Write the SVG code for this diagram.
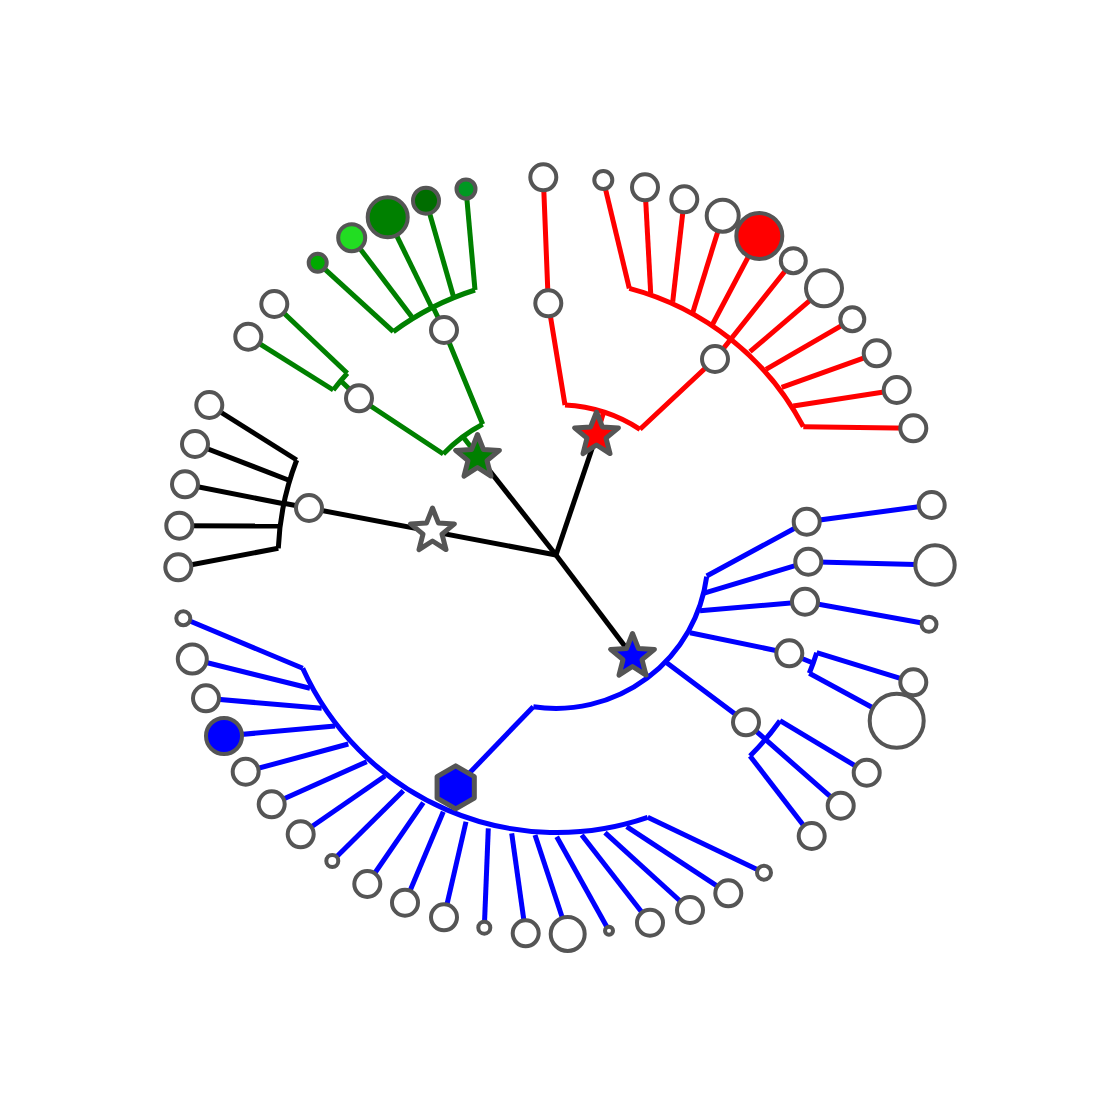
<svg xmlns="http://www.w3.org/2000/svg" width="1113" height="1113" viewBox="0 0 1113 1113">
<style>
.e{fill:none;stroke-width:5;stroke-linejoin:miter}
.k{stroke:#000}.g{stroke:#008000}.r{stroke:#ff0000}.b{stroke:#0000ff}
.n{fill:#fff;stroke:#555;stroke-width:4}
.s{stroke:#555;stroke-width:5;stroke-linejoin:round}
</style>
<defs>
<path id="star" d="M0,-23 L5.9,-8.1 L21.9,-7.1 L9.5,3.1 L13.5,18.6 L0,10 L-13.5,18.6 L-9.5,3.1 L-21.9,-7.1 L-5.9,-8.1 Z"/>
<path id="hex" d="M0,-21.5 L18.62,-10.75 L18.62,10.75 L0,21.5 L-18.62,10.75 L-18.62,-10.75 Z"/>
</defs>
<rect width="1113" height="1113" fill="#fff"/>
<g id="connectors">
<path class="e k" d="M556 555 L285 503.5"/>
<path class="e k" d="M556 555 L478 456"/>
<path class="e k" d="M556 555 L597 434"/>
<path class="e k" d="M556 555 L633 657"/>
<path class="e k" d="M296.7 460 A277 277 0 0 0 278.3 548.3"/>
<path class="e k" d="M209.3 405 L296.7 460"/>
<path class="e k" d="M195 444 L288.3 480"/>
<path class="e k" d="M185 484.3 L285 504"/>
<path class="e k" d="M179.3 525.7 L278.5 526"/>
<path class="e k" d="M178.3 567.3 L278.3 548.3"/>
<path class="e g" d="M478 456 L463.5 437.5"/>
<path class="e g" d="M443.3 454 A150 150 0 0 1 482.7 424.3"/>
<path class="e g" d="M443.3 454 L359 398.3 L341 381"/>
<path class="e g" d="M333.3 390 A277 277 0 0 1 347.3 373.3"/>
<path class="e g" d="M274.3 304 L347.3 373.3"/>
<path class="e g" d="M248.3 336.7 L333.3 390"/>
<path class="e g" d="M482.7 424.3 L444 330 L433 307"/>
<path class="e g" d="M393.3 331.7 A277 277 0 0 1 475 290"/>
<path class="e g" d="M317.7 262.7 L393.3 331.7"/>
<path class="e g" d="M351.7 237.7 L411.7 316.7"/>
<path class="e g" d="M387.7 217.3 L432 308"/>
<path class="e g" d="M426 200.7 L453.3 296"/>
<path class="e g" d="M466 189 L475 290"/>
<path class="e r" d="M597 434 L603.5 412.5"/>
<path class="e r" d="M565 405 A151 151 0 0 1 640 429.3"/>
<path class="e r" d="M565 405 L548.3 303.3 L543.3 177.3"/>
<path class="e r" d="M640 429.3 L715 359 L793.3 260.7"/>
<path class="e r" d="M629.3 288.3 A277 277 0 0 1 803.3 426.7"/>
<path class="e r" d="M603.3 180 L629.3 288.3"/>
<path class="e r" d="M645 187.3 L650.7 293.3"/>
<path class="e r" d="M684.3 199.3 L672.7 301.7"/>
<path class="e r" d="M722.7 215.7 L692.7 312.7"/>
<path class="e r" d="M759.3 236 L712.7 324"/>
<path class="e r" d="M824 288.3 L750 351.7"/>
<path class="e r" d="M852.3 319.3 L766 369.3"/>
<path class="e r" d="M876.7 353.3 L781.7 387.3"/>
<path class="e r" d="M896.7 390 L793.3 406"/>
<path class="e r" d="M913.3 428.3 L803.3 426.7"/>
<path class="e b" d="M633 657 L648 677"/>
<path class="e b" d="M706.7 576.7 A152 152 0 0 1 533.3 706.7"/>
<path class="e b" d="M706.7 576 L806.7 521.7 L931.7 505"/>
<path class="e b" d="M703.3 593.3 L808.3 561.7 L935 565"/>
<path class="e b" d="M700 610.7 L805 601.7 L929 624.3"/>
<path class="e b" d="M690 632.7 L789.3 653.3 L813 663"/>
<path class="e b" d="M816.7 652.7 A278 278 0 0 1 809.3 673.3"/>
<path class="e b" d="M816.7 652.7 L913.3 682.3"/>
<path class="e b" d="M809.3 673.3 L896.7 720.7"/>
<path class="e b" d="M666.7 662.7 L746 722.3 L840.7 805.7"/>
<path class="e b" d="M780 720.7 A278 278 0 0 1 750 756"/>
<path class="e b" d="M780 720.7 L866.7 772.7"/>
<path class="e b" d="M750 756 L811.7 836"/>
<path class="e b" d="M533.3 706.7 L455.7 787.3"/>
<path class="e b" d="M302.7 668.3 A279 279 0 0 0 647.7 817.3"/>
<path class="e b" d="M183.3 618.3 L302.7 668.3"/>
<path class="e b" d="M192.3 659 L310 688.3"/>
<path class="e b" d="M206 698.3 L321.7 708.3"/>
<path class="e b" d="M224 736 L335 726"/>
<path class="e b" d="M245.7 771.7 L348.3 744"/>
<path class="e b" d="M271.7 804.3 L366.7 761.7"/>
<path class="e b" d="M300.7 834.3 L385 776"/>
<path class="e b" d="M332.3 861 L403.3 790.7"/>
<path class="e b" d="M367.3 884 L423.3 802.7"/>
<path class="e b" d="M405 902.7 L443.3 811.7"/>
<path class="e b" d="M444 917.3 L466 821.7"/>
<path class="e b" d="M484.3 927.7 L488.3 828.3"/>
<path class="e b" d="M525.7 933.3 L511.7 833.3"/>
<path class="e b" d="M567.7 934 L535 835"/>
<path class="e b" d="M609 930.7 L556.7 836.7"/>
<path class="e b" d="M650 922.7 L581.7 835"/>
<path class="e b" d="M690 910 L605 832.7"/>
<path class="e b" d="M728.3 893.3 L626.7 826.7"/>
<path class="e b" d="M764 872.7 L647.7 817.3"/>
</g>
<g id="n-black-int"><circle class="n" cx="309" cy="508" r="13"/></g>
<g id="n-green-int1"><circle class="n" cx="359" cy="398.3" r="13"/></g>
<g id="n-green-int2"><circle class="n" cx="444" cy="330" r="13"/></g>
<g id="n-red-int1"><circle class="n" cx="548.3" cy="303.3" r="13"/></g>
<g id="n-red-int2"><circle class="n" cx="715" cy="359" r="13"/></g>
<g id="n-blue-int1"><circle class="n" cx="806.7" cy="521.7" r="13"/></g>
<g id="n-blue-int2"><circle class="n" cx="808.3" cy="561.7" r="13"/></g>
<g id="n-blue-int3"><circle class="n" cx="805" cy="601.7" r="13"/></g>
<g id="n-blue-int4"><circle class="n" cx="789.3" cy="653.3" r="13"/></g>
<g id="n-blue-int5"><circle class="n" cx="746" cy="722.3" r="13"/></g>
<g id="n-k1"><circle class="n" cx="209.3" cy="405" r="13"/></g>
<g id="n-k2"><circle class="n" cx="195" cy="444" r="13"/></g>
<g id="n-k3"><circle class="n" cx="185" cy="484.3" r="13"/></g>
<g id="n-k4"><circle class="n" cx="179.3" cy="525.7" r="13"/></g>
<g id="n-k5"><circle class="n" cx="178.3" cy="567.3" r="13"/></g>
<g id="n-g1"><circle class="n" cx="274.3" cy="304" r="13"/></g>
<g id="n-g2"><circle class="n" cx="248.3" cy="336.7" r="13"/></g>
<g id="n-g3"><circle class="n" cx="317.7" cy="262.7" r="9" style="fill:#00aa00"/></g>
<g id="n-g4"><circle class="n" cx="351.7" cy="237.7" r="13.5" style="fill:#22dd22"/></g>
<g id="n-g5"><circle class="n" cx="387.7" cy="217.3" r="20" style="fill:#008000"/></g>
<g id="n-g6"><circle class="n" cx="426" cy="200.7" r="13" style="fill:#006d00"/></g>
<g id="n-g7"><circle class="n" cx="466" cy="189" r="9.5" style="fill:#009922"/></g>
<g id="n-r1"><circle class="n" cx="543.3" cy="177.3" r="13"/></g>
<g id="n-r2"><circle class="n" cx="603.3" cy="180" r="9"/></g>
<g id="n-r3"><circle class="n" cx="645" cy="187.3" r="13"/></g>
<g id="n-r4"><circle class="n" cx="684.3" cy="199.3" r="13"/></g>
<g id="n-r5"><circle class="n" cx="722.7" cy="215.7" r="16"/></g>
<g id="n-r6"><circle class="n" cx="759.3" cy="236" r="23" style="fill:#ff0000"/></g>
<g id="n-r7"><circle class="n" cx="793.3" cy="260.7" r="12.5"/></g>
<g id="n-r8"><circle class="n" cx="824" cy="288.3" r="18"/></g>
<g id="n-r9"><circle class="n" cx="852.3" cy="319.3" r="12"/></g>
<g id="n-r10"><circle class="n" cx="876.7" cy="353.3" r="13"/></g>
<g id="n-r11"><circle class="n" cx="896.7" cy="390" r="13"/></g>
<g id="n-r12"><circle class="n" cx="913.3" cy="428.3" r="13"/></g>
<g id="n-b1"><circle class="n" cx="931.7" cy="505" r="13"/></g>
<g id="n-b2"><circle class="n" cx="935" cy="565" r="19.7"/></g>
<g id="n-b3"><circle class="n" cx="929" cy="624.3" r="7.5"/></g>
<g id="n-b4"><circle class="n" cx="913.3" cy="682.3" r="13"/></g>
<g id="n-b5"><circle class="n" cx="896.7" cy="720.7" r="27"/></g>
<g id="n-b6"><circle class="n" cx="866.7" cy="772.7" r="13"/></g>
<g id="n-b7"><circle class="n" cx="840.7" cy="805.7" r="13"/></g>
<g id="n-b8"><circle class="n" cx="811.7" cy="836" r="13"/></g>
<g id="n-c1"><circle class="n" cx="183.3" cy="618.3" r="7"/></g>
<g id="n-c2"><circle class="n" cx="192.3" cy="659" r="14.5"/></g>
<g id="n-c3"><circle class="n" cx="206" cy="698.3" r="13"/></g>
<g id="n-c4"><circle class="n" cx="224" cy="736" r="18" style="fill:#0000ff"/></g>
<g id="n-c5"><circle class="n" cx="245.7" cy="771.7" r="13"/></g>
<g id="n-c6"><circle class="n" cx="271.7" cy="804.3" r="13"/></g>
<g id="n-c7"><circle class="n" cx="300.7" cy="834.3" r="13"/></g>
<g id="n-c8"><circle class="n" cx="332.3" cy="861" r="6"/></g>
<g id="n-c9"><circle class="n" cx="367.3" cy="884" r="13"/></g>
<g id="n-c10"><circle class="n" cx="405" cy="902.7" r="13"/></g>
<g id="n-c11"><circle class="n" cx="444" cy="917.3" r="13"/></g>
<g id="n-c12"><circle class="n" cx="484.3" cy="927.7" r="6"/></g>
<g id="n-c13"><circle class="n" cx="525.7" cy="933.3" r="13"/></g>
<g id="n-c14"><circle class="n" cx="567.7" cy="934" r="17"/></g>
<g id="n-c15"><circle class="n" cx="609" cy="930.7" r="4"/></g>
<g id="n-c16"><circle class="n" cx="650" cy="922.7" r="13"/></g>
<g id="n-c17"><circle class="n" cx="690" cy="910" r="13"/></g>
<g id="n-c18"><circle class="n" cx="728.3" cy="893.3" r="13"/></g>
<g id="n-c19"><circle class="n" cx="764" cy="872.7" r="7"/></g>
<g id="n-hex"><use href="#hex" class="s" fill="#0000ff" transform="translate(455.7 787.3)"/></g>
<g id="n-star-white"><use href="#star" class="s" fill="#fff" transform="translate(432.5 531)"/></g>
<g id="n-star-green"><use href="#star" class="s" fill="#008000" transform="translate(477.5 457.5)"/></g>
<g id="n-star-red"><use href="#star" class="s" fill="#ff0000" transform="translate(596.5 435)"/></g>
<g id="n-star-blue"><use href="#star" class="s" fill="#0000ff" transform="translate(632.5 656.5)"/></g>
</svg>
